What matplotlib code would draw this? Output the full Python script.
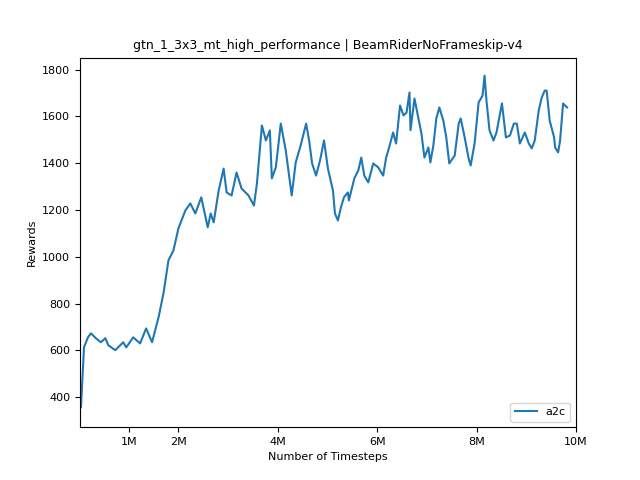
import matplotlib
matplotlib.use("Agg")
import matplotlib.pyplot as plt

timesteps_m = [0.04,0.10,0.18,0.24,0.34,0.44,0.53,0.59,0.73,0.89,0.95,1.09,1.23,1.35,1.47,1.60,1.70,1.80,1.90,2.00,
 2.14,2.24,2.34,2.46,2.59,2.65,2.71,2.81,2.91,2.97,3.07,3.17,3.27,3.41,3.52,3.58,3.68,3.76,3.84,3.88,
 3.96,4.06,4.16,4.28,4.36,4.46,4.57,4.63,4.69,4.77,4.85,4.93,5.01,5.11,5.15,5.21,5.27,5.33,5.41,5.43,
 5.54,5.62,5.68,5.74,5.82,5.92,6.02,6.12,6.18,6.24,6.32,6.38,6.46,6.53,6.59,6.65,6.67,6.75,6.83,6.89,
 6.95,7.03,7.07,7.13,7.19,7.25,7.33,7.39,7.45,7.56,7.64,7.68,7.76,7.84,7.88,7.96,8.04,8.12,8.16,8.20,
 8.26,8.34,8.40,8.51,8.59,8.67,8.75,8.81,8.87,8.97,9.05,9.11,9.17,9.25,9.31,9.37,9.41,9.47,9.56,9.58,
 9.64,9.68,9.74,9.82]
rewards = [357,613,656,673,652,635,652,622,601,635,613,656,630,694,635,741,844,985,1027,1121,
 1198,1228,1185,1254,1126,1185,1147,1283,1377,1275,1262,1360,1292,1262,1219,1313,1561,1497,1540,1335,
 1382,1569,1454,1262,1403,1476,1569,1497,1399,1347,1412,1497,1375,1283,1185,1155,1211,1254,1275,1241,
 1335,1369,1424,1347,1318,1399,1382,1347,1424,1467,1531,1484,1646,1604,1616,1702,1541,1676,1591,1527,
 1424,1467,1403,1476,1591,1638,1582,1510,1399,1433,1569,1591,1510,1420,1390,1484,1659,1689,1774,1664,
 1540,1497,1531,1655,1510,1518,1569,1569,1484,1531,1484,1463,1497,1625,1680,1710,1710,1582,1510,1467,
 1446,1497,1655,1638]
tick_vals = [1e6,2e6,4e6,6e6,8e6,10e6]
tick_labels = ["1M","2M","4M","6M","8M","10M"]

fig, ax = plt.subplots(figsize=(6.4,4.8), dpi=100)
ax.plot([t*1e6 for t in timesteps_m], rewards, color="#1f77b4", lw=1.5, label="a2c")
ax.set_xlim(0.02e6, 10e6)
ax.set_ylim(272, 1851)
ax.set_xticks(tick_vals)
ax.set_xticklabels(tick_labels)
ax.tick_params(labelsize=8)
ax.set_xlabel("Number of Timesteps", fontsize=8)
ax.set_ylabel("Rewards", fontsize=8)
ax.set_title("gtn_1_3x3_mt_high_performance | BeamRiderNoFrameskip-v4", fontsize=9)
ax.legend(loc="lower right", fontsize=8)
fig.savefig("out.png")
